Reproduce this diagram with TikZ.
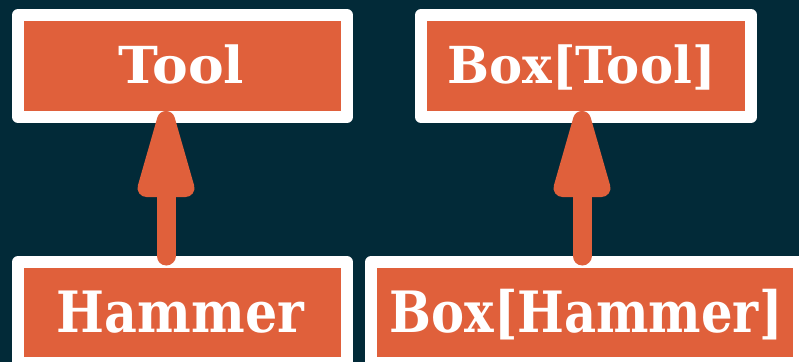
\documentclass[tikz,border=0pt]{standalone}
\usepackage{fontspec}
\setmainfont{DejaVu Serif}
\usetikzlibrary{calc}
\definecolor{bgdark}{HTML}{022A38}
\definecolor{rust}{HTML}{E0603B}
\tikzset{
  card/.style={draw=white, fill=rust, line width=12pt, line join=round, inner sep=0pt,
    text=white, font=\bfseries},
  topcard/.style={card, minimum height=102pt, text height=34pt, text depth=0pt, font=\bfseries\fontsize{51}{51}\selectfont},
  botcard/.style={card, minimum height=101pt, text height=39pt, text depth=0pt, font=\bfseries\fontsize{57}{57}\selectfont},
  shaft/.style={draw=rust, line width=19pt, line cap=round},
  head/.style={fill=rust, draw=rust, line width=18pt, line join=round}
}
\begin{document}
\begin{tikzpicture}[x=1pt,y=-1pt]
\useasboundingbox (0,0) rectangle (799,362);
\fill[bgdark] (0,0) rectangle (799,362);
\node[topcard, minimum width=329pt] (tool) at (182.5,66) {\hspace*{-2pt}\scalebox{1.05}[1]{Tool}};
\node[topcard, minimum width=330pt] (boxtool) at (586,66) {\hspace*{-9pt}\scalebox{0.974}[1]{Box[Tool]}};
\node[botcard, minimum width=329pt] (hammer) at (182.5,312.5) {\hspace*{-4pt}\scalebox{0.89}[1]{Hammer}};
\node[botcard, minimum width=428pt] (boxhammer) at (585,312.5) {\hspace*{2pt}\scalebox{0.87}[1]{Box[Hammer]}};
% left arrow
\coordinate (ltip) at ([xshift=-16.5pt,yshift=3pt]tool.south);
\coordinate (lbase) at ([xshift=-16.5pt]hammer.north);
\draw[shaft] (lbase) -- ($(ltip)+(0,68)$);
\filldraw[head] (ltip) -- ++(-19.5,68) -- ++(39,0) -- cycle;
% right arrow
\coordinate (rtip) at ([xshift=-4pt,yshift=3pt]boxtool.south);
\coordinate (rbase) at ([xshift=-3pt]boxhammer.north);
\draw[shaft] (rbase) -- ($(rtip)+(0,68)$);
\filldraw[head] (rtip) -- ++(-19.5,68) -- ++(39,0) -- cycle;
\end{tikzpicture}
\end{document}
